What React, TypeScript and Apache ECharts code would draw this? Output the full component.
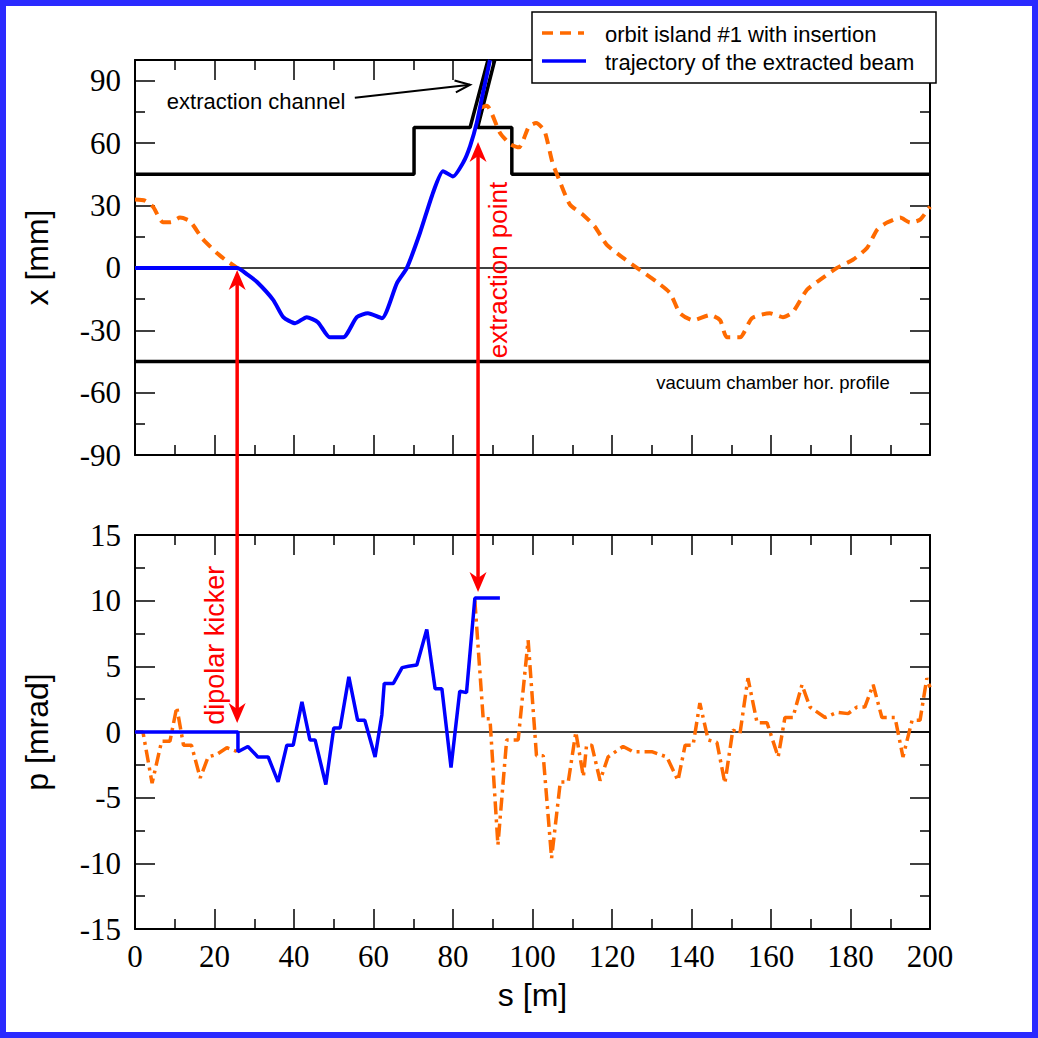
import React, { useEffect, useRef } from "react";
import * as echarts from "echarts";

// ---- top panel: x [mm] vs s [m]
const orbitTopS = [0, 2.5, 4.5, 7, 9, 11.3, 13.8, 17, 20.6, 23, 25.7, null, 86.8, 88.5, 91.8, 94.4, 96.6, 99.1, 100.9, 103, 105, 107, 109.4, 112.7, 115.7, 118.7, 122.8, 127, 131.3, 134.6, 137.1, 140.4, 144.7, 147.2, 148.9, 152.2, 155.2, 159.7, 163, 165.5, 169, 172.3, 176.6, 180.6, 184.2, 186.7, 189.2, 192.5, 195, 197.5, 200];
const orbitTopX = [32.9, 32.4, 29.5, 22, 22, 24.2, 22.5, 14, 7.2, 3.5, 0, null, 77, 78, 65, 59.5, 58, 68, 69.7, 66, 50.8, 41, 30.5, 25.6, 19.8, 11.1, 4.8, -1, -6.8, -12.1, -21.8, -25.2, -22.7, -25.2, -33.4, -33.4, -24.2, -21.8, -23.7, -21.3, -10.6, -5.8, 0, 3.9, 9.7, 18.4, 21.8, 24.2, 21.8, 23.2, 29.5];

const trajTopS = [0, 25.7, 28.4, 30.7, 34.8, 37.3, 40.3, 43.2, 46, 49, 52.4, 55.8, 58.6, 62.1, 65.9, 68.4, 71.7, 75, 77.5, 80, 82.6, 84.3, 86, 87.6, 89.3];
const trajTopX = [0, 0, -3.4, -6.8, -15.5, -23.7, -26.6, -23.7, -26.1, -33.4, -33.4, -23.7, -21.8, -24.2, -7.3, 0, 16.9, 36.3, 46.5, 44, 50.8, 58.6, 70, 84.7, 100];

// vacuum chamber / extraction channel profile
const profileAS = [0, 70.2, 70.2, 84.3, 88.8];
const profileAX = [45, 45, 67.5, 67.5, 100];
const profileBS = [90.5, 86.2, 94.8, 94.8, 200];
const profileBX = [100, 67.5, 67.5, 45, 45];
const profileLowS = [0, 200];
const profileLowX = [-45, -45];
const zeroS = [0, 200];
const zeroV = [0, 0];

// ---- bottom panel: p [mrad] vs s [m]
const orbitBotS = [0, 2, 4.3, 6.7, 8.8, 10.5, 12.2, 14.2, 16.4, 18.4, 20.6, 23.1, 25.9, null, 85.5, 87.6, 89.3, 91.3, 93.5, 96.4, 98.9, 101, 102.7, 104.8, 107, 109, 110.9, 112.8, 113.6, 114.9, 117, 119, 122.8, 125.3, 130, 133.8, 136.6, 138.4, 140.4, 142.1, 144.2, 146.4, 148.4, 150.4, 152.2, 154.2, 156.5, 159, 161.8, 163.5, 165.5, 167.8, 169.8, 173.6, 176.6, 179.4, 181.6, 183.6, 185.7, 187.9, 191.2, 193.2, 195.5, 197.5, 199.2, 200];
const orbitBotP = [0, 0, -3.9, -0.7, -0.7, 1.9, -1, -1, -3.5, -1.9, -1.7, -1.2, -1.5, null, 10, 1, 1, -8.6, -0.6, -0.6, 7, -1.8, -1.8, -9.6, -3.8, -3.8, 0, -3.4, -1, -1, -3.7, -1.9, -1.1, -1.5, -1.5, -1.9, -3.7, -1, -1, 2.2, -0.6, -0.8, -3.9, 0.15, -0.1, 4.1, 0.7, 0.7, -1.9, 1.1, 1.1, 3.6, 1.9, 1.1, 1.5, 1.4, 1.9, 1.9, 3.6, 1.1, 1.1, -1.9, 0.9, 0.9, 4.1, 3.4];

const trajBotS = [0, 25.9, 25.9, 28.4, 30.9, 33.5, 36, 38.2, 39.8, 42, 44, 45.3, 48, 50, 51.6, 53.8, 56, 57.8, 60.4, 62.1, 62.7, 65, 67.2, 68.8, 70.9, 73.4, 75.5, 77.2, 79.5, 81.7, 83.4, 85.5, 91.8];
const trajBotP = [0, 0, -1.5, -1.1, -1.9, -1.9, -3.8, -1, -1, 2.3, -0.6, -0.6, -4, 0.3, 0.3, 4.2, 0.9, 0.9, -1.9, 1.3, 3.7, 3.7, 4.9, 5.0, 5.1, 7.8, 3.3, 3.3, -2.7, 3.1, 3.0, 10.2, 10.2];

const xTicks = { min: 0, max: 200, interval: 20 };
const topTicks = { min: -90, max: 100, interval: 30 };
const botTicks = { min: -15, max: 15, interval: 5 };

const legendNames = ["orbit island #1 with insertion", "trajectory of the extracted beam"];

const ORANGE = "#ff6a00";
const BLUE = "#0000ff";
const RED = "#ff0000";
const SERIF = "Liberation Serif";
const SANS = "Liberation Sans";

function zip(s: (number | null)[], v: (number | null)[]) {
  return s.map((x, i) => (x === null || v[i] === null ? "-" : [x, v[i]]));
}

function axisBase(extra: any) {
  return {
    type: "value",
    axisLine: { show: true, onZero: false, lineStyle: { color: "#000", width: 2 } },
    axisTick: { show: true, inside: true, length: 20, lineStyle: { color: "#000", width: 1.5 } },
    minorTick: { show: true, splitNumber: 2, length: 10, lineStyle: { color: "#000", width: 1.5 } },
    splitLine: { show: false },
    minorSplitLine: { show: false },
    ...extra,
  };
}

export default function App() {
  const ref = useRef<HTMLDivElement>(null);
  useEffect(() => {
    if (!ref.current) return;
    const chart = echarts.init(ref.current, null, { renderer: "svg" });
    const hidden = { show: false };
    const labelStyle = { color: "#000", fontFamily: SERIF, fontSize: 31 };
    const nameStyle = { color: "#000", fontFamily: SANS, fontSize: 32 };
    const option: any = {
      animation: false,
      backgroundColor: "#ffffff",
      textStyle: { fontFamily: SANS },
      grid: [
        { left: 135, top: 60, width: 795, height: 395 },
        { left: 135, top: 535, width: 795, height: 394 },
      ],
      xAxis: [
        axisBase({ gridIndex: 0, position: "bottom", ...xTicks, axisLabel: hidden }),
        axisBase({ gridIndex: 0, position: "top", ...xTicks, axisLabel: hidden }),
        axisBase({
          gridIndex: 1, position: "bottom", ...xTicks,
          axisLabel: { ...labelStyle, margin: 12 },
          name: "s [m]", nameLocation: "middle", nameGap: 50, nameTextStyle: nameStyle,
        }),
        axisBase({ gridIndex: 1, position: "top", ...xTicks, axisLabel: hidden }),
      ],
      yAxis: [
        axisBase({
          gridIndex: 0, position: "left", ...topTicks,
          axisLabel: { ...labelStyle, margin: 14, showMaxLabel: false },
          name: "x [mm]", nameLocation: "middle", nameGap: 82, nameTextStyle: nameStyle,
        }),
        axisBase({ gridIndex: 0, position: "right", ...topTicks, axisLabel: hidden }),
        axisBase({
          gridIndex: 1, position: "left", ...botTicks,
          axisLabel: { ...labelStyle, margin: 14 },
          name: "p [mrad]", nameLocation: "middle", nameGap: 82, nameTextStyle: nameStyle,
        }),
        axisBase({ gridIndex: 1, position: "right", ...botTicks, axisLabel: hidden }),
      ],
      series: [
        { type: "line", xAxisIndex: 0, yAxisIndex: 0, data: zip(zeroS, zeroV), showSymbol: false, silent: true, z: 1,
          lineStyle: { color: "#000", width: 1.5 } },
        { type: "line", xAxisIndex: 0, yAxisIndex: 0, data: zip(profileLowS, profileLowX), showSymbol: false, z: 2,
          lineStyle: { color: "#000", width: 3.5 } },
        { type: "line", xAxisIndex: 0, yAxisIndex: 0, data: zip(profileAS, profileAX), showSymbol: false, z: 2,
          lineStyle: { color: "#000", width: 3.5 } },
        { type: "line", xAxisIndex: 0, yAxisIndex: 0, data: zip(profileBS, profileBX), showSymbol: false, z: 2,
          lineStyle: { color: "#000", width: 3.5 } },
        { name: legendNames[0], type: "line", xAxisIndex: 0, yAxisIndex: 0, data: zip(orbitTopS, orbitTopX), showSymbol: false, z: 3,
          smooth: 0.2, connectNulls: false, lineStyle: { color: ORANGE, width: 4, type: [11, 7] } },
        { name: legendNames[1], type: "line", xAxisIndex: 0, yAxisIndex: 0, data: zip(trajTopS, trajTopX), showSymbol: false, z: 4,
          smooth: 0.2, lineStyle: { color: BLUE, width: 4 } },
        { type: "line", xAxisIndex: 2, yAxisIndex: 2, data: zip(zeroS, zeroV), showSymbol: false, silent: true, z: 1,
          lineStyle: { color: "#000", width: 1.5 } },
        { name: legendNames[0], type: "line", xAxisIndex: 2, yAxisIndex: 2, data: zip(orbitBotS, orbitBotP), showSymbol: false, z: 3,
          connectNulls: false, lineStyle: { color: ORANGE, width: 3.5, type: [13, 5, 3, 5] } },
        { name: legendNames[1], type: "line", xAxisIndex: 2, yAxisIndex: 2, data: zip(trajBotS, trajBotP), showSymbol: false, z: 4,
          lineStyle: { color: BLUE, width: 3.5 } },
      ],
    };
    chart.setOption(option);

    const p0 = (s: number, v: number) => chart.convertToPixel({ xAxisIndex: 0, yAxisIndex: 0 } as any, [s, v]) as number[];
    const p1 = (s: number, v: number) => chart.convertToPixel({ xAxisIndex: 2, yAxisIndex: 2 } as any, [s, v]) as number[];

    const g: any[] = [];
    // red double arrows
    const redArrow = (x: number, yTop: number, yBot: number) => {
      const hl = 20, hw = 8.5, notch = 14;
      g.push({ type: "line", z: 50, shape: { x1: x, y1: yTop + notch, x2: x, y2: yBot - notch }, style: { stroke: RED, lineWidth: 3.5 } });
      g.push({ type: "polygon", z: 50, shape: { points: [[x, yTop], [x - hw, yTop + hl], [x, yTop + notch], [x + hw, yTop + hl]] }, style: { fill: RED } });
      g.push({ type: "polygon", z: 50, shape: { points: [[x, yBot], [x - hw, yBot - hl], [x, yBot - notch], [x + hw, yBot - hl]] }, style: { fill: RED } });
    };
    const a1x = p0(25.7, 0)[0];
    redArrow(a1x, p0(25.7, 0)[1] + 2, p1(25.7, 0)[1] - 9);
    const a2x = p0(86.3, 0)[0];
    redArrow(a2x, p0(86.3, 60.5)[1], p1(86.3, 10.2)[1] - 6);

    const dk = p1(20.2, 6.6);
    g.push({ type: "text", z: 50, x: dk[0], y: dk[1], rotation: Math.PI / 2,
      style: { text: "dipolar kicker", fill: RED, fontFamily: SANS, fontSize: 27, align: "center", verticalAlign: "middle" } });
    const ep = p0(91.2, -1);
    g.push({ type: "text", z: 50, x: ep[0], y: ep[1], rotation: Math.PI / 2,
      style: { text: "extraction point", fill: RED, fontFamily: SANS, fontSize: 26, align: "center", verticalAlign: "middle" } });

    // extraction channel label + arrow
    const ec = p0(8, 79.8);
    g.push({ type: "text", z: 50, x: ec[0], y: ec[1],
      style: { text: "extraction channel", fill: "#000", fontFamily: SANS, fontSize: 22, align: "left", verticalAlign: "middle" } });
    const as = p0(55.3, 81.8), ae = p0(84.3, 88.1);
    const dx = ae[0] - as[0], dy = ae[1] - as[1], len = Math.hypot(dx, dy);
    const ux = dx / len, uy = dy / len, nx = -uy, ny = ux;
    g.push({ type: "line", z: 50, shape: { x1: as[0], y1: as[1], x2: ae[0], y2: ae[1] }, style: { stroke: "#000", lineWidth: 2 } });
    g.push({ type: "polyline", z: 50, shape: { points: [
      [ae[0] - 15 * ux + 6 * nx, ae[1] - 15 * uy + 6 * ny], [ae[0], ae[1]], [ae[0] - 15 * ux - 6 * nx, ae[1] - 15 * uy - 6 * ny]] },
      style: { stroke: "#000", lineWidth: 2, fill: null } });

    const vc = p0(160.5, -55.3);
    g.push({ type: "text", z: 50, x: vc[0], y: vc[1],
      style: { text: "vacuum chamber hor. profile", fill: "#000", fontFamily: SANS, fontSize: 18.5, align: "center", verticalAlign: "middle" } });

    // legend box
    g.push({ type: "rect", z: 60, shape: { x: 532, y: 12, width: 404, height: 71 }, style: { fill: "#fff", stroke: "#000", lineWidth: 1.5 } });
    g.push({ type: "line", z: 61, shape: { x1: 542, y1: 33, x2: 584, y2: 33 }, style: { stroke: ORANGE, lineWidth: 3.5, lineDash: [11, 7] } });
    g.push({ type: "line", z: 61, shape: { x1: 542, y1: 61, x2: 586, y2: 61 }, style: { stroke: BLUE, lineWidth: 3.5 } });
    g.push({ type: "text", z: 61, x: 605, y: 34, style: { text: legendNames[0], fill: "#000", fontFamily: SANS, fontSize: 22, verticalAlign: "middle" } });
    g.push({ type: "text", z: 61, x: 605, y: 62, style: { text: legendNames[1], fill: "#000", fontFamily: SANS, fontSize: 22, verticalAlign: "middle" } });

    chart.setOption({ graphic: g });
    return () => chart.dispose();
  }, []);

  return (
    <div style={{ position: "fixed", left: 0, top: 0, width: 1038, height: 1038, background: "#fff" }}>
      <div ref={ref} style={{ position: "absolute", left: 0, top: 0, width: 1038, height: 1038 }} />
      <div style={{ position: "absolute", left: 0, top: 0, width: 1038, height: 1038, boxSizing: "border-box",
        border: "6px solid #2a2aff", pointerEvents: "none" }} />
    </div>
  );
}
